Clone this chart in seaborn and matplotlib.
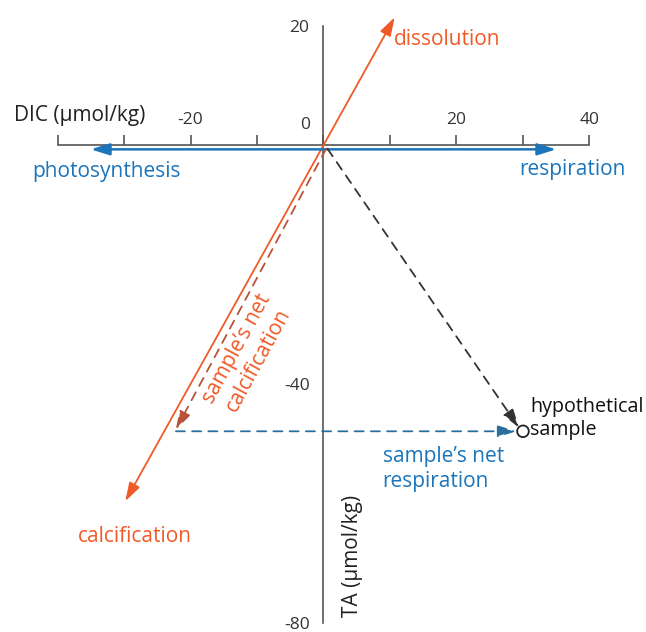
import matplotlib
matplotlib.use("Agg")
import matplotlib.pyplot as plt
import seaborn as sns
import pandas as pd

sns.set_theme(style="white")
plt.rcParams['font.family'] = ['Open Sans', 'DejaVu Sans']

# ---- data (DIC, TA in umol/kg) ----
x_ticks = [-40, -30, -20, -10, 0, 10, 20, 30, 40]
x_tick_labels = ['', '', '-20', '', '', '', '20', '', '40']
y_ticks = [20, 10, 0, -10, -20, -30, -40, -50, -60, -70, -80]
y_tick_labels = ['20', '', '', '', '', '', '-40', '', '', '', '-80']

dissolution_end = (10.7, 21.4)
calcification_end = (-29.8, -59.6)
photosynthesis_end = (-35.0, -0.7)
respiration_end = (35.0, -0.7)
sample_dic = [30.0]
sample_ta = [-47.9]
net_calc_start = (0.4, -0.6)
net_calc_end = (-22.2, -47.6)
net_resp_start = (-22.2, -47.9)
net_resp_end = (29.0, -47.9)
to_sample_start = (0.6, -0.6)
to_sample_end = (29.4, -47.3)

ORANGE = '#F05A28'
BLUE = '#1B75BB'
DBLUE = '#2A6F9E'
DORANGE = '#B8533A'
AXC = '#555555'

fig = plt.figure(figsize=(6.46, 6.32), dpi=100)
ax = fig.add_axes([0, 0, 1, 1])
ax.set_xlim(-48.65, 48.5)
ax.set_ylim(-81.5, 24.3)

# axes through origin
for s in ['right', 'bottom']:
    ax.spines[s].set_visible(False)
ax.spines['top'].set_position(('data', 0))
ax.spines['top'].set_bounds(-40, 40)
ax.spines['left'].set_position(('data', 0))
ax.spines['left'].set_bounds(-80, 20)
for s in ['top', 'left']:
    ax.spines[s].set_color(AXC)
    ax.spines[s].set_linewidth(1.2)
ax.xaxis.set_ticks_position('top')
ax.set_xticks(x_ticks)
ax.set_xticklabels(x_tick_labels)
ax.set_yticks(y_ticks)
ax.set_yticklabels(y_tick_labels)
ax.tick_params(axis='both', direction='out', length=7, width=1.2, color=AXC,
               labelsize=12.5, labelcolor='#333333', pad=3)
ax.tick_params(axis='x', pad=5)
ax.patch.set_alpha(0)
ax.grid(False)
ax.text(-2.8, 2.0, '0', ha='center', va='bottom', fontsize=12.5, color='#333333')

def arrow(start, end, color, ls='-', both=False, lw=1.3):
    style = '<|-|>' if both else '-|>'
    ax.annotate('', xy=end, xytext=start,
                arrowprops=dict(arrowstyle=style + ',head_length=0.7,head_width=0.22',
                                color=color, lw=lw, linestyle=ls,
                                mutation_scale=16, shrinkA=0, shrinkB=0))

arrow(calcification_end, dissolution_end, ORANGE, both=True)
arrow(photosynthesis_end, respiration_end, BLUE, both=True, lw=1.8)
arrow(net_calc_start, net_calc_end, DORANGE, ls=(0, (5, 4)))
arrow(net_resp_start, net_resp_end, DBLUE, ls=(0, (5, 4)))
arrow(to_sample_start, to_sample_end, '#333333', ls=(0, (5, 4)))

sample = pd.DataFrame({'DIC': sample_dic, 'TA': sample_ta})
sns.scatterplot(data=sample, x='DIC', y='TA', ax=ax, s=70, marker='o',
                facecolor='none', edgecolor='#222222', linewidth=1.3, zorder=5)
ax.set_xlabel('')
ax.set_ylabel('')

fs = 15
ax.text(-36.6, 4.9, 'DIC (µmol/kg)', ha='center', va='center', fontsize=fs, color='#222222')
ax.text(4.3, -68.8, 'TA (µmol/kg)', ha='center', va='center', fontsize=fs,
        color='#222222', rotation=90)
ax.text(18.6, 17.7, 'dissolution', ha='center', va='center', fontsize=fs, color=ORANGE)
ax.text(-32.7, -4.4, 'photosynthesis', ha='center', va='center', fontsize=fs, color=BLUE)
ax.text(37.4, -4.0, 'respiration', ha='center', va='center', fontsize=fs, color=BLUE)
ax.text(-28.4, -65.5, 'calcification', ha='center', va='center', fontsize=fs, color=ORANGE)
ax.text(31.1, -45.8, 'hypothetical\nsample', ha='left', va='center', fontsize=14.2,
        color='#111111', linespacing=1.2)
ax.text(8.9, -54.2, 'sample’s net\nrespiration', ha='left', va='center', fontsize=fs,
        color=BLUE, linespacing=1.2)
ax.text(-11.4, -35.0, 'sample’s net\ncalcification', ha='center', va='center',
        fontsize=fs, color=ORANGE, rotation=61.4, rotation_mode='anchor',
        linespacing=1.2)

fig.savefig('out.png', dpi=100)
